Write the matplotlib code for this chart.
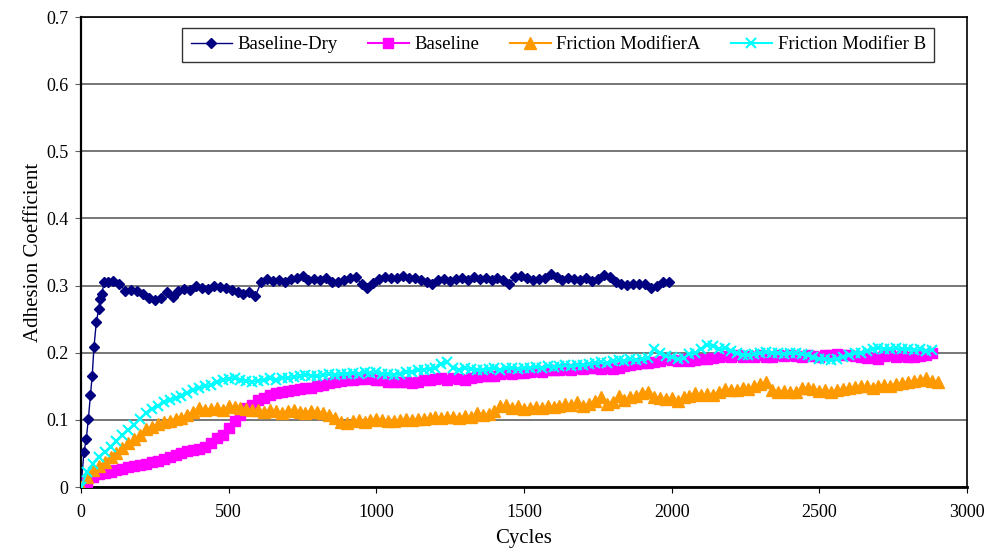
import matplotlib.pyplot as plt
import numpy as np
from matplotlib.ticker import FuncFormatter

plt.rcParams['font.family'] = ['Liberation Serif', 'DejaVu Serif']

# Baseline-Dry: dense start, then a reading every 20 cycles from 90
dry_start_x = [0, 10, 18, 25, 32, 38, 44, 52, 60, 65, 71, 78]
dry_start_y = [0.0, 0.052, 0.072, 0.102, 0.137, 0.166, 0.209, 0.246, 0.265, 0.28, 0.287, 0.306]
dry_rest = [
    0.305, 0.307, 0.303, 0.292, 0.294, 0.292, 0.288, 0.281, 0.278, 0.282,
    0.290, 0.283, 0.292, 0.295, 0.293, 0.300, 0.296, 0.295, 0.300, 0.298,
    0.297, 0.293, 0.290, 0.288, 0.290, 0.284, 0.305, 0.310, 0.307, 0.309,
    0.306, 0.310, 0.311, 0.315, 0.309, 0.310, 0.308, 0.311, 0.306, 0.305,
    0.309, 0.311, 0.313, 0.302, 0.297, 0.304, 0.310, 0.313, 0.311, 0.312,
    0.314, 0.311, 0.312, 0.308, 0.306, 0.303, 0.308, 0.310, 0.307, 0.310,
    0.312, 0.309, 0.313, 0.310, 0.312, 0.309, 0.311, 0.308, 0.303, 0.313,
    0.314, 0.311, 0.309, 0.310, 0.312, 0.317, 0.313, 0.308, 0.311, 0.310,
    0.309, 0.311, 0.307, 0.310, 0.316, 0.313, 0.306, 0.302, 0.301, 0.303,
    0.302, 0.303, 0.297, 0.300, 0.305, 0.306,
]

# the other three series: one reading every 20 cycles from 0
baseline = [
    0.000, 0.008, 0.015, 0.019, 0.021, 0.023, 0.025, 0.027, 0.030, 0.031,
    0.033, 0.035, 0.037, 0.039, 0.041, 0.044, 0.047, 0.050, 0.053, 0.055,
    0.057, 0.060, 0.066, 0.073, 0.078, 0.088, 0.098, 0.108, 0.117, 0.122,
    0.130, 0.133, 0.137, 0.140, 0.142, 0.143, 0.145, 0.146, 0.147, 0.148,
    0.150, 0.152, 0.155, 0.156, 0.158, 0.160, 0.160, 0.161, 0.161, 0.162,
    0.160, 0.159, 0.157, 0.157, 0.156, 0.156, 0.155, 0.157, 0.159, 0.160,
    0.161, 0.162, 0.160, 0.163, 0.161, 0.160, 0.163, 0.164, 0.165, 0.165,
    0.166, 0.168, 0.170, 0.169, 0.170, 0.170, 0.171, 0.173, 0.172, 0.174,
    0.175, 0.174, 0.176, 0.175, 0.177, 0.176, 0.178, 0.177, 0.176, 0.178,
    0.176, 0.178, 0.180, 0.181, 0.183, 0.184, 0.185, 0.186, 0.188, 0.190,
    0.189, 0.188, 0.190, 0.187, 0.189, 0.190, 0.191, 0.192, 0.193, 0.195,
    0.194, 0.196, 0.193, 0.195, 0.194, 0.196, 0.194, 0.193, 0.196, 0.195,
    0.197, 0.195, 0.194, 0.196, 0.195, 0.194, 0.196, 0.197, 0.198, 0.197,
    0.196, 0.195, 0.193, 0.192, 0.193, 0.191, 0.195, 0.196, 0.194, 0.195,
    0.193, 0.194, 0.195, 0.196, 0.200,
]

fm_a = [
    0.000, 0.015, 0.025, 0.031, 0.037, 0.045, 0.050, 0.058, 0.065, 0.071,
    0.078, 0.086, 0.090, 0.094, 0.097, 0.099, 0.101, 0.103, 0.108, 0.112,
    0.117, 0.115, 0.116, 0.117, 0.114, 0.120, 0.119, 0.117, 0.116, 0.115,
    0.114, 0.112, 0.115, 0.113, 0.110, 0.113, 0.115, 0.112, 0.110, 0.113,
    0.112, 0.110, 0.107, 0.103, 0.097, 0.095, 0.098, 0.100, 0.097, 0.100,
    0.101, 0.100, 0.099, 0.098, 0.100, 0.101, 0.100, 0.102, 0.101, 0.103,
    0.104, 0.103, 0.104, 0.105, 0.103, 0.106, 0.104, 0.110, 0.108, 0.109,
    0.113, 0.120, 0.122, 0.117, 0.120, 0.116, 0.118, 0.119, 0.118, 0.120,
    0.119, 0.121, 0.123, 0.122, 0.126, 0.120, 0.124, 0.128, 0.134, 0.124,
    0.127, 0.136, 0.130, 0.134, 0.136, 0.140, 0.142, 0.134, 0.133, 0.131,
    0.132, 0.128, 0.134, 0.136, 0.140, 0.137, 0.138, 0.137, 0.142, 0.146,
    0.145, 0.144, 0.147, 0.146, 0.150, 0.153, 0.157, 0.145, 0.142, 0.143,
    0.142, 0.141, 0.147, 0.148, 0.146, 0.143, 0.145, 0.141, 0.144, 0.146,
    0.148, 0.149, 0.151, 0.150, 0.147, 0.150, 0.152, 0.151, 0.154, 0.155,
    0.156, 0.158, 0.160, 0.162, 0.158, 0.156,
]

fm_b = [
    0.000, 0.022, 0.035, 0.045, 0.052, 0.060, 0.068, 0.077, 0.085, 0.093,
    0.102, 0.110, 0.116, 0.121, 0.126, 0.130, 0.133, 0.136, 0.140, 0.144,
    0.147, 0.150, 0.152, 0.156, 0.159, 0.161, 0.162, 0.160, 0.158, 0.157,
    0.158, 0.160, 0.162, 0.160, 0.163, 0.162, 0.164, 0.165, 0.167, 0.166,
    0.165, 0.167, 0.168, 0.167, 0.168, 0.169, 0.170, 0.169, 0.171, 0.170,
    0.171, 0.169, 0.168, 0.167, 0.169, 0.171, 0.172, 0.174, 0.175, 0.176,
    0.178, 0.183, 0.186, 0.178, 0.175, 0.177, 0.176, 0.174, 0.175, 0.176,
    0.177, 0.175, 0.177, 0.178, 0.176, 0.177, 0.178, 0.179, 0.178, 0.180,
    0.179, 0.180, 0.181, 0.180, 0.182, 0.181, 0.183, 0.184, 0.186, 0.185,
    0.187, 0.189, 0.188, 0.190, 0.189, 0.190, 0.192, 0.205, 0.200, 0.195,
    0.193, 0.190, 0.192, 0.198, 0.200, 0.205, 0.212, 0.210, 0.205, 0.207,
    0.203, 0.199, 0.197, 0.196, 0.198, 0.200, 0.201, 0.200, 0.199, 0.198,
    0.200, 0.199, 0.198, 0.196, 0.193, 0.191, 0.190, 0.189, 0.191, 0.194,
    0.197, 0.199, 0.200, 0.202, 0.205, 0.207, 0.206, 0.205, 0.207, 0.205,
    0.206, 0.204, 0.205, 0.203, 0.204,
]

x_ticks = [0, 500, 1000, 1500, 2000, 2500, 3000]
y_ticks = [0, 0.1, 0.2, 0.3, 0.4, 0.5, 0.6, 0.7]

dry_x = np.concatenate([dry_start_x, 90 + 20 * np.arange(len(dry_rest))])
dry_y = np.concatenate([dry_start_y, dry_rest])

fig = plt.figure(figsize=(9.89, 5.49), dpi=100)
ax = fig.add_axes([0.0819, 0.1129, 0.8959, 0.8561])

ax.plot(dry_x, dry_y, color='#000080', marker='D', markersize=5.5, lw=1,
        label='Baseline-Dry', zorder=3)
ax.plot(20 * np.arange(len(baseline)), baseline, color='#FF00FF', marker='s',
        markersize=6.5, lw=1.5, label='Baseline', zorder=4)
ax.plot(20 * np.arange(len(fm_a)), fm_a, color='#FF9900', marker='^',
        markersize=8, lw=1.5, label='Friction ModifierA', zorder=5)
ax.plot(20 * np.arange(len(fm_b)), fm_b, color='#00FFFF', marker='x',
        markersize=7.5, mew=1.5, lw=1.5, label='Friction Modifier B', zorder=6)

ax.set_xlim(0, 3000)
ax.set_ylim(0, 0.7)
ax.set_xticks(x_ticks)
ax.set_yticks(y_ticks)
ax.yaxis.set_major_formatter(FuncFormatter(lambda v, p: '0' if v == 0 else f'{v:.1f}'))
ax.tick_params(labelsize=13, direction='out', length=4, color='black')
ax.tick_params(axis='x', pad=8)
ax.tick_params(axis='y', pad=5, color='#606060')
ax.yaxis.grid(True, color='#606060', lw=1.2)
ax.set_axisbelow(True)
for s in ax.spines.values():
    s.set_color('black')
    s.set_linewidth(1.2)
ax.spines['bottom'].set_linewidth(2)
ax.spines['left'].set_linewidth(1.6)

ax.set_xlabel('Cycles', fontsize=15, labelpad=6)
ax.set_ylabel('Adhesion Coefficient', fontsize=15, labelpad=2)

leg = ax.legend(loc='upper right', bbox_to_anchor=(0.963, 0.977), ncol=4,
                fontsize=13.5, frameon=True, fancybox=False, edgecolor='black',
                handlelength=2.2, columnspacing=1.6, handletextpad=0.3,
                borderpad=0.45, borderaxespad=0)
leg.get_frame().set_linewidth(1)

plt.savefig('out.png', dpi=100)
